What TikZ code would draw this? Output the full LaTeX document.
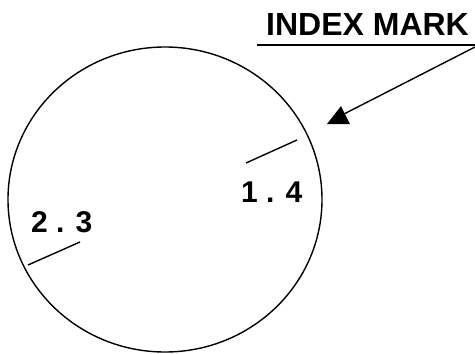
\documentclass[tikz,border=0pt]{standalone}
\usepackage{fontspec}
\setmainfont{Liberation Sans}
\begin{document}
\begin{tikzpicture}[x=1pt,y=-1pt,
  lbl/.style={font=\bfseries\fontsize{30}{31}\selectfont, inner sep=0pt, anchor=base west},
  ln/.style={line width=1.4pt}]
\useasboundingbox (0,0) rectangle (475,354);
% dial
\draw[ln] (165,199.5) ellipse [x radius=157, y radius=152.5];
% index mark title
\node[lbl, font=\bfseries\fontsize{32}{33}\selectfont] (title) at (266,35) {INDEX MARK};
\coordinate (ulL) at (257,45);
\coordinate (ulR) at (475,45);
\draw[ln] (ulL) -- (ulR);
% arrow
\coordinate (astart) at (475,47);
\coordinate (atip) at (344,114);
\draw[ln] (astart) -- (atip);
\fill (327,124) -- (350,124) -- (341,106) -- cycle;
% marks
\draw[ln] (246,163) -- (297,140);
\draw[ln] (28,265) -- (80,242);
\node[lbl] (l14) at (241,202) {1 . 4};
\node[lbl] (l23) at (31,232) {2 . 3};
\end{tikzpicture}
\end{document}
